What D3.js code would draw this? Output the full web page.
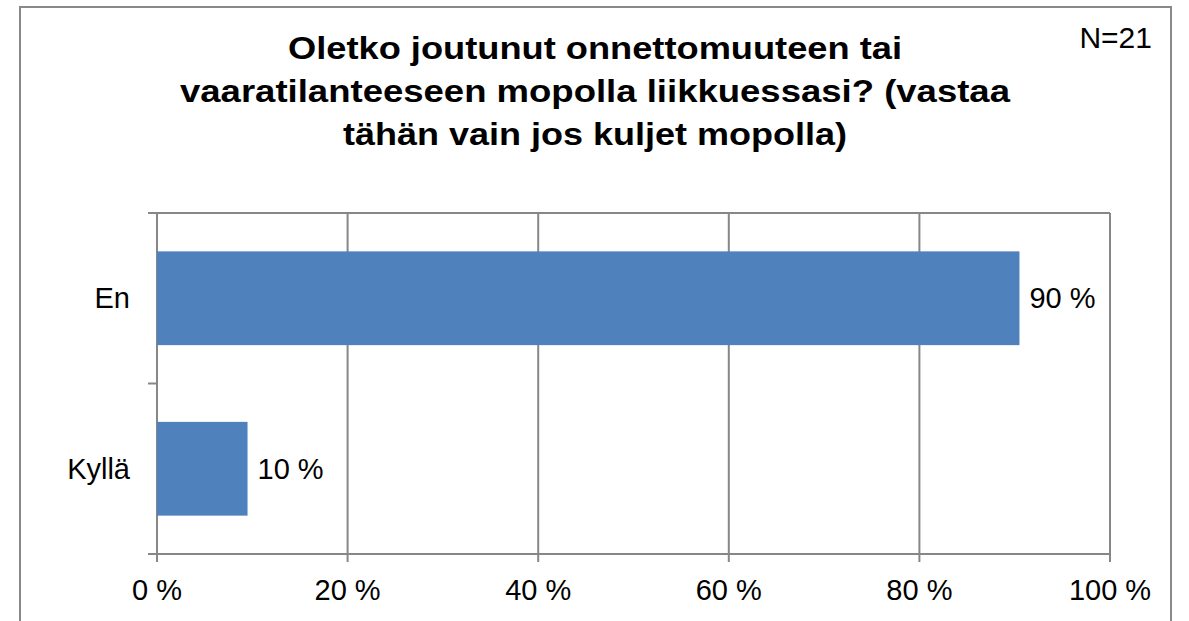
<!DOCTYPE html>
<html>
<head>
<meta charset="utf-8">
<script src="https://cdn.jsdelivr.net/npm/d3@7"></script>
<style>
  body { margin: 0; background: #fff; }
  text { font-family: "Liberation Sans", Arial, sans-serif; fill: #000; }
</style>
</head>
<body>
<script>
// chart data
var categories = ["En", "Kyllä"];
var values = [90.5, 9.5];
var valueLabels = ["90 %", "10 %"];
var tickValues = [0, 20, 40, 60, 80, 100];
var titleLines = [
  "Oletko joutunut onnettomuuteen tai",
  "vaaratilanteeseen mopolla liikkuessasi? (vastaa",
  "tähän vain jos kuljet mopolla)"
];
var titleWidths = [614, 830, 504];
var nLabel = "N=21";

var width = 1189;
var height = 621;

var svg = d3.select("body").append("svg")
  .attr("width", width)
  .attr("height", height);

// outer frame
svg.append("rect")
  .attr("x", 20).attr("y", 7)
  .attr("width", 1151).attr("height", 640)
  .attr("fill", "none")
  .attr("stroke", "#898989")
  .attr("stroke-width", 2);

// title
svg.selectAll("text.title")
  .data(titleLines)
  .enter().append("text")
  .attr("class", "title")
  .attr("x", 595)
  .attr("y", function(d, i){ return 59 + i * 43; })
  .attr("text-anchor", "middle")
  .attr("textLength", function(d, i){ return titleWidths[i]; })
  .attr("lengthAdjust", "spacingAndGlyphs")
  .style("font-weight", "bold")
  .style("font-size", "31px")
  .text(function(d){ return d; });

svg.append("text")
  .attr("x", 1152).attr("y", 48)
  .attr("text-anchor", "end")
  .style("font-size", "30px")
  .text(nLabel);

// plot area (avoid window.top etc.)
var plotLeft = 157, plotRight = 1110, plotTop = 213, plotBottom = 554;

var x = d3.scaleLinear().domain([0, 100]).range([plotLeft, plotRight]);
var y = d3.scaleBand().domain(categories).range([plotTop, plotBottom])
  .paddingInner(0.45).paddingOuter(0.225);

var gridColor = "#878787";

// vertical gridlines
svg.selectAll("line.grid")
  .data(tickValues)
  .enter().append("line")
  .attr("class", "grid")
  .attr("x1", function(d){ return x(d); })
  .attr("x2", function(d){ return x(d); })
  .attr("y1", plotTop).attr("y2", plotBottom + 8)
  .attr("stroke", gridColor)
  .attr("stroke-width", 2);

// top border and bottom axis
svg.append("line")
  .attr("x1", plotLeft - 9).attr("x2", plotRight)
  .attr("y1", plotTop).attr("y2", plotTop)
  .attr("stroke", gridColor).attr("stroke-width", 2);
svg.append("line")
  .attr("x1", plotLeft - 9).attr("x2", plotRight)
  .attr("y1", plotBottom).attr("y2", plotBottom)
  .attr("stroke", gridColor).attr("stroke-width", 2);

// category separator tick
svg.append("line")
  .attr("x1", plotLeft - 9).attr("x2", plotLeft)
  .attr("y1", plotTop + y.step()).attr("y2", plotTop + y.step())
  .attr("stroke", gridColor).attr("stroke-width", 2);

// bars
svg.selectAll("rect.bar")
  .data(values)
  .enter().append("rect")
  .attr("class", "bar")
  .attr("x", x(0))
  .attr("y", function(d, i){ return y(categories[i]); })
  .attr("width", function(d){ return x(d) - x(0); })
  .attr("height", y.bandwidth())
  .attr("fill", "#4F81BD");

// value labels
svg.selectAll("text.val")
  .data(values)
  .enter().append("text")
  .attr("class", "val")
  .attr("x", function(d){ return x(d) + 10; })
  .attr("y", function(d, i){ return y(categories[i]) + y.bandwidth() / 2; })
  .attr("dy", "0.35em")
  .style("font-size", "29px")
  .text(function(d, i){ return valueLabels[i]; });

// category labels
svg.selectAll("text.cat")
  .data(categories)
  .enter().append("text")
  .attr("class", "cat")
  .attr("x", 130)
  .attr("y", function(d){ return y(d) + y.bandwidth() / 2; })
  .attr("dy", "0.35em")
  .attr("text-anchor", "end")
  .style("font-size", "29px")
  .text(function(d){ return d; });

// x tick labels
svg.selectAll("text.tick")
  .data(tickValues)
  .enter().append("text")
  .attr("class", "tick")
  .attr("x", function(d){ return x(d); })
  .attr("y", 600)
  .attr("text-anchor", "middle")
  .style("font-size", "29px")
  .text(function(d){ return d + " %"; });
</script>
</body>
</html>
